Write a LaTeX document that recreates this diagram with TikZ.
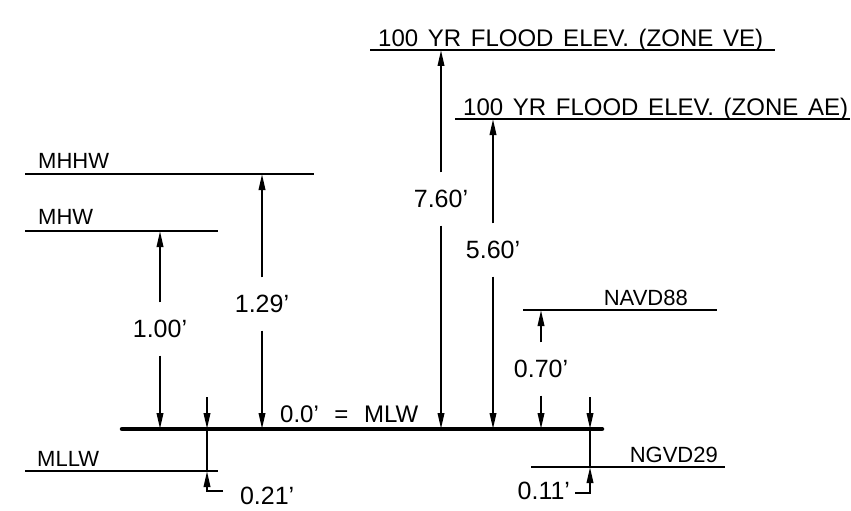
\documentclass[tikz,border=0pt]{standalone}
\usepackage{fontspec}
\setmainfont{Liberation Sans}[WordSpace=1.45]
\usetikzlibrary{arrows.meta}
\tikzset{
  lvl/.style={line width=2pt},
  mlwline/.style={line width=4.5pt, line cap=round},
  arr/.style={line width=2pt, -{Triangle[length=16pt,width=6.5pt]}},
  plainline/.style={line width=2pt},
  lvltext/.style={inner sep=0pt, font=\fontsize{22}{22}\selectfont},
  toptext/.style={inner sep=0pt, font=\fontsize{24}{24}\selectfont},
  dimtext/.style={inner xsep=0pt, inner ysep=18pt, text height=17pt, text depth=0pt, font=\fontsize{25}{25}\selectfont},
  sidetext/.style={inner sep=0pt, text height=17pt, text depth=0pt, font=\fontsize{25}{25}\selectfont}
}
\begin{document}
\begin{tikzpicture}[x=1pt,y=-1pt]
\useasboundingbox (0,0) rectangle (851,511);
% level lines
\coordinate (veL) at (370,50);  \coordinate (veR) at (775,50);
\coordinate (aeL) at (455,119); \coordinate (aeR) at (850,119);
\coordinate (mhhwL) at (25,174); \coordinate (mhhwR) at (314,174);
\coordinate (mhwL) at (25,231);  \coordinate (mhwR) at (218,231);
\coordinate (mlwL) at (122,429); \coordinate (mlwR) at (602,429);
\coordinate (mllwL) at (25,471); \coordinate (mllwR) at (218,471);
\coordinate (navdL) at (523,310); \coordinate (navdR) at (717,310);
\coordinate (ngvdL) at (531,467); \coordinate (ngvdR) at (725,467);
\draw[lvl] (veL) -- (veR);
\draw[lvl] (aeL) -- (aeR);
\draw[lvl] (mhhwL) -- (mhhwR);
\draw[lvl] (mhwL) -- (mhwR);
\draw[lvl] (mllwL) -- (mllwR);
\draw[lvl] (navdL) -- (navdR);
\draw[lvl] (ngvdL) -- (ngvdR);
\draw[mlwline] (mlwL) -- (mlwR);
% level labels
\node[toptext, anchor=base west] (tve) at (378,47) {100 YR FLOOD ELEV. (ZONE VE)};
\node[toptext, anchor=base west] (tae) at (463,115) {100 YR FLOOD ELEV. (ZONE AE)};
\node[lvltext, anchor=base west] (tmhhw) at (38,168) {MHHW};
\node[lvltext, anchor=base west] (tmhw) at (38,224) {MHW};
\node[lvltext, anchor=base west] (tmllw) at (37,466) {MLLW};
\node[lvltext, anchor=base east] (tnavd) at (688,305) {NAVD88};
\node[lvltext, anchor=base east] (tngvd) at (718,462) {NGVD29};
\node[toptext, anchor=base west] (tmlw) at (280,422) {0.0’\hspace{0.65em}=\hspace{0.65em}MLW};
% dimension 1.00'
\coordinate (a1t) at (160,231); \coordinate (a1b) at (160,429);
\node[dimtext] (d100) at (160,329) {1.00’};
\draw[arr] (d100.north) -- (a1t);
\draw[arr] (d100.south) -- (a1b);
% dimension 1.29'
\coordinate (a2t) at (262,174); \coordinate (a2b) at (262,429);
\node[dimtext] (d129) at (262,304) {1.29’};
\draw[arr] (d129.north) -- (a2t);
\draw[arr] (d129.south) -- (a2b);
% dimension 7.60'
\coordinate (a3t) at (441,50); \coordinate (a3b) at (441,429);
\node[dimtext] (d760) at (441,199) {7.60’};
\draw[arr] (d760.north) -- (a3t);
\draw[arr] (d760.south) -- (a3b);
% dimension 5.60'
\coordinate (a4t) at (493,119); \coordinate (a4b) at (493,429);
\node[dimtext] (d560) at (493,250) {5.60’};
\draw[arr] (d560.north) -- (a4t);
\draw[arr] (d560.south) -- (a4b);
% dimension 0.70'
\coordinate (a5t) at (541,310); \coordinate (a5b) at (541,429);
\node[dimtext] (d070) at (541,369) {0.70’};
\draw[arr] (d070.north) -- (a5t);
\draw[arr] (d070.south) -- (a5b);
% dimension 0.21'
\coordinate (b1s) at (207,397); \coordinate (b1m) at (207,429); \coordinate (b1l) at (207,471);
\node[sidetext, anchor=west, outer xsep=17pt] (d021) at (223,496) {0.21’};
\draw[arr] (b1s) -- (b1m);
\draw[plainline] (b1m) -- (b1l);
\draw[arr] ([yshift=5pt]d021.west) -| (b1l);
% dimension 0.11'
\coordinate (b2s) at (590,397); \coordinate (b2m) at (590,429); \coordinate (b2l) at (590,467);
\node[sidetext, anchor=east, outer xsep=5pt] (d011) at (575,491) {0.11’};
\draw[arr] (b2s) -- (b2m);
\draw[plainline] (b2m) -- (b2l);
\draw[arr] ([yshift=-2pt]d011.east) -| (b2l);
\end{tikzpicture}
\end{document}
